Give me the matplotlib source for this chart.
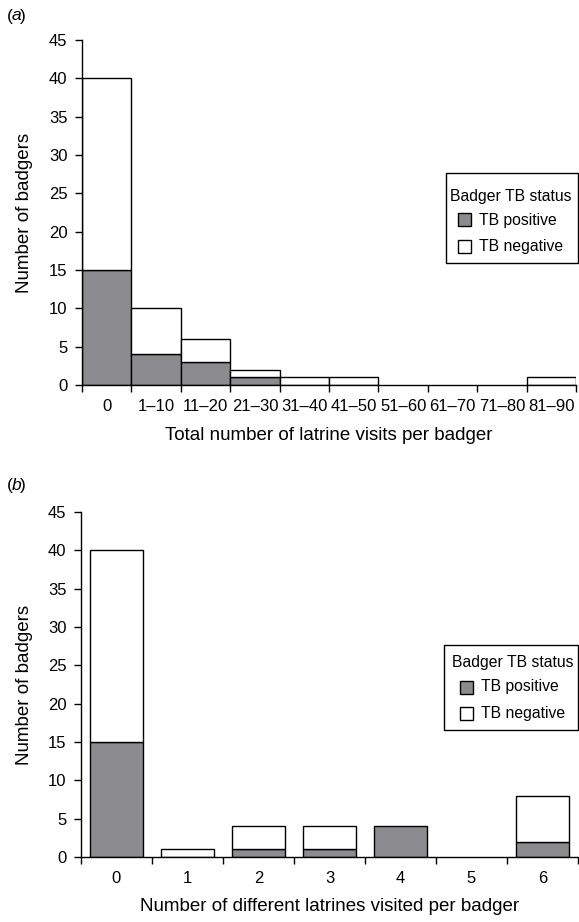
import matplotlib
matplotlib.use("Agg")
import matplotlib.pyplot as plt
from matplotlib.patches import Rectangle
import numpy as np

plt.rcParams['font.family'] = ['Liberation Sans', 'DejaVu Sans']

# Panel (a)
cats_a = ["0", "1\u201310", "11\u201320", "21\u201330", "31\u201340", "41\u201350",
          "51\u201360", "61\u201370", "71\u201380", "81\u201390"]
pos_a = [15, 4, 3, 1, 0, 0, 0, 0, 0, 0]
tot_a = [40, 10, 6, 2, 1, 1, 0, 0, 0, 1]

# Panel (b)
cats_b = ["0", "1", "2", "3", "4", "5", "6"]
pos_b = [15, 0, 1, 1, 4, 0, 2]
tot_b = [40, 1, 4, 4, 4, 0, 8]

legend_title = "Badger TB status"
legend_labels = ["TB positive", "TB negative"]

GRAY = "#8c8c90"
W, H = 579, 922
fig = plt.figure(figsize=(W / 100, H / 100), dpi=100)

TICK_FS = 12
LABEL_FS = 13.5
LEG_FS = 11.3

def fx(x):
    return x / W

def fy(y):
    return 1 - y / H

def style_axis(ax, n, left_px, bottom_px, width_px, height_px, xlabel, xlab_top):
    ax.spines['top'].set_visible(False)
    ax.spines['right'].set_visible(False)
    ax.spines['left'].set_linewidth(1.0)
    ax.spines['bottom'].set_linewidth(1.0)
    ax.set_ylim(0, 45)
    ax.set_xlim(0, n)
    ax.set_yticks(np.arange(0, 46, 5))
    ax.tick_params(axis='y', direction='out', length=5, width=1, labelsize=TICK_FS, pad=5.5)
    ax.set_xticks(np.arange(n + 1))
    ax.set_xticklabels([])
    ax.tick_params(axis='x', which='major', direction='out', length=5, width=1)
    ax.set_ylabel("Number of badgers", fontsize=LABEL_FS)
    ax.yaxis.set_label_coords((33 - left_px) / width_px, 0.5)
    ax.set_xlabel(xlabel, fontsize=LABEL_FS)
    ax.xaxis.set_label_coords(0.5, (bottom_px - xlab_top) / height_px)

def draw(ax, cats, pos, tot, width):
    n = len(cats)
    x = np.arange(n) + 0.5
    neg = np.array(tot) - np.array(pos)
    for xi, p, ng in zip(x, pos, neg):
        if p > 0:
            ax.bar(xi, p, width=width, color=GRAY, edgecolor='black', linewidth=1.0, zorder=2)
        if ng > 0:
            ax.bar(xi, ng, bottom=p, width=width, color='white', edgecolor='black', linewidth=1.0, zorder=2)
    ax.set_xticks(x, minor=True)
    ax.set_xticklabels(cats, minor=True)
    ax.tick_params(axis='x', which='minor', length=0, labelsize=TICK_FS, pad=10)

def legend(box, title_xy, rows_y, sq_x, text_x):
    x0, y0, x1, y1 = box
    fig.add_artist(Rectangle((fx(x0), fy(y1)), fx(x1) - fx(x0), fy(y0) - fy(y1),
                             transform=fig.transFigure, facecolor='white',
                             edgecolor='black', linewidth=1.0, zorder=5))
    fig.text(fx(title_xy[0]), fy(title_xy[1]), legend_title, fontsize=LEG_FS,
             ha='left', va='center', zorder=6)
    colors = [GRAY, 'white']
    s = 13
    for yc, lab, c in zip(rows_y, legend_labels, colors):
        fig.add_artist(Rectangle((fx(sq_x), fy(yc + s / 2)), s / W, s / H,
                                 transform=fig.transFigure, facecolor=c,
                                 edgecolor='black', linewidth=1.0, zorder=6))
        fig.text(fx(text_x), fy(yc), lab, fontsize=LEG_FS, ha='left', va='center', zorder=6)

# Panel (a) axes
la, ba, wa, ha = 82, 385, 494, 345
axa = fig.add_axes([fx(la), fy(ba), wa / W, ha / H])
style_axis(axa, len(cats_a), la, ba, wa, ha,
           "Total number of latrine visits per badger", 427)
draw(axa, cats_a, pos_a, tot_a, 1.0)
legend((446, 173, 578, 263), (450, 196), (220, 247), 458, 479)

# Panel (b) axes
lb, bb, wb, hb = 81, 857, 497, 345
axb = fig.add_axes([fx(lb), fy(bb), wb / W, hb / H])
style_axis(axb, len(cats_b), lb, bb, wb, hb,
           "Number of different latrines visited per badger", 898)
draw(axb, cats_b, pos_b, tot_b, 0.75)
legend((444, 645, 578, 730), (452, 663), (687, 713), 460, 481)

def panel_label(x, y, letter):
    fig.text(fx(x), fy(y), "(", fontsize=12.5, va='center', ha='left')
    fig.text(fx(x + 4.5), fy(y), letter, fontsize=12.5, va='center', ha='left', style='italic')
    fig.text(fx(x + 12.5), fy(y), ")", fontsize=12.5, va='center', ha='left')

panel_label(7, 16, "a")
panel_label(7, 485, "b")

fig.savefig("out.png", dpi=100)
